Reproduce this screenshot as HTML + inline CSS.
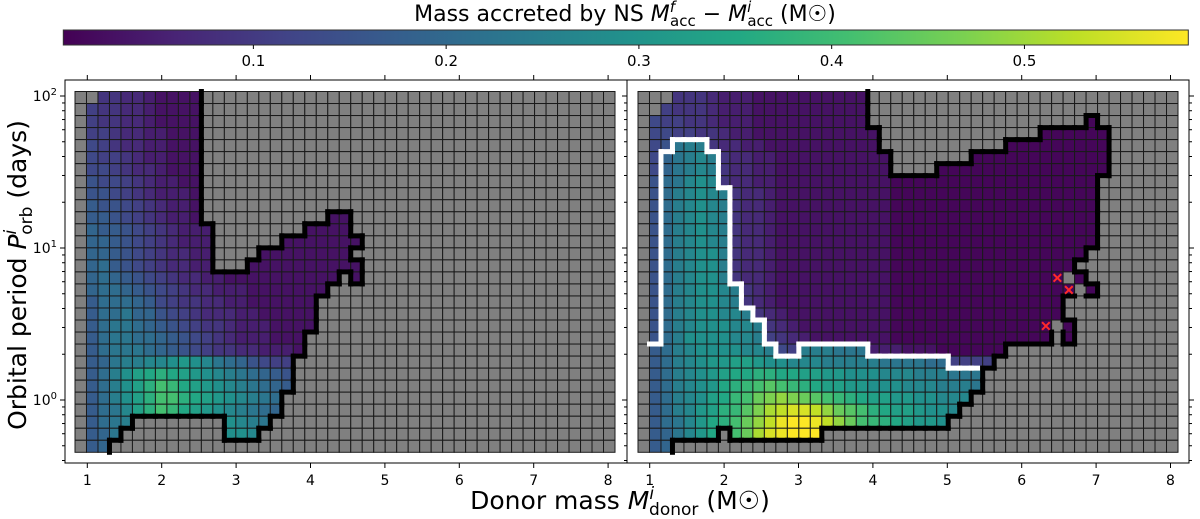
<!DOCTYPE html>
<html><head><meta charset="utf-8"><title>Mass accreted by NS</title>
<style>
html,body{margin:0;padding:0;background:#fff;}
svg{display:block;font-family:"DejaVu Sans","Liberation Sans",sans-serif;}
</style></head>
<body>
<svg id="fig" width="1200" height="519" viewBox="0 0 1200 519" xmlns="http://www.w3.org/2000/svg">
<defs>
<linearGradient id="vir" x1="0" x2="1" y1="0" y2="0">
<stop offset="0" stop-color="#440154"/><stop offset="0.1" stop-color="#482475"/><stop offset="0.2" stop-color="#414487"/><stop offset="0.3" stop-color="#355f8d"/><stop offset="0.4" stop-color="#2a788e"/><stop offset="0.5" stop-color="#21918c"/><stop offset="0.6" stop-color="#22a884"/><stop offset="0.7" stop-color="#44bf70"/><stop offset="0.8" stop-color="#7ad151"/><stop offset="0.9" stop-color="#bddf26"/><stop offset="1" stop-color="#fde725"/>
</linearGradient>
</defs>
<text x="625" y="21" font-size="22" text-anchor="middle">Mass accreted by NS <tspan font-style="italic">M</tspan><tspan font-size="15" dy="-9" font-style="italic">f</tspan><tspan font-size="15" dy="14" dx="-5">acc</tspan><tspan dy="-5"> − </tspan><tspan font-style="italic">M</tspan><tspan font-size="15" dy="-9" font-style="italic">i</tspan><tspan font-size="15" dy="14" dx="-4">acc</tspan><tspan dy="-5"> (M☉)</tspan></text>
<rect x="63.3" y="30" width="1125" height="15" fill="url(#vir)" stroke="#333" stroke-width="1"/>
<g id="cbticks"></g>
<g id="panelL"></g>
<g id="panelR"></g>
<text x="620" y="509" font-size="25" text-anchor="middle">Donor mass <tspan font-style="italic">M</tspan><tspan font-size="17" dy="-10" font-style="italic">i</tspan><tspan font-size="17" dy="16" dx="-5">donor</tspan><tspan dy="-6"> (M☉)</tspan></text>
<text transform="translate(26,275) rotate(-90)" font-size="25" text-anchor="middle">Orbital period <tspan font-style="italic">P</tspan><tspan font-size="17" dy="-10" font-style="italic">i</tspan><tspan font-size="17" dy="16" dx="-5">orb</tspan><tspan dy="-6"> (days)</tspan></text>
</svg>
<script>
// ---- data ----
const valueAlphabet = "0123456789abcdefghijklmnopqrstu"; // level k -> value 0.01+0.02k
const cbTickValues = [0.1, 0.2, 0.3, 0.4, 0.5];
const cbTickLabels = ["0.1", "0.2", "0.3", "0.4", "0.5"];
const xTickValues = [1, 2, 3, 4, 5, 6, 7, 8];
const yMajorExps = [0, 1, 2];
const leftGrid = [
"--443321111",
"-5443321111",
"-5443321111",
"-5543322111",
"-6543322111",
"-6554322111",
"-6654332111",
"-7665432211",
"-7765432221",
"-8776543221",
"-8876543221...........11",
"-98876543222........1111",
"-99876543222......1111111",
"-99876543322....11111111",
"-9a876543322...1111111111",
"-9a98765433221111111111.1",
"-9aa987654332221111111",
"-8aaa9865443322111111",
"-8aab9976543332211111",
"-8abba987654432221111",
"-8abbaa9876543222111",
"-8abbba9876544332221",
"-89bccddefedba97655",
"-8aceghihgfedcba987",
"-8acegikjhgfedcba98",
"-8acegikkihgfedcba",
"-8abdgikjhgfedcba9",
"-8abc........edcb",
"-89b.........eed",
"-89"
];
const rightGrid = [
"---44432221111111111",
"--544432221111111111",
"-6554432221111111111...................0",
"-66554432211111111111..............000000",
"-67bcc433221111111111...........000000000",
"-69bcdc433221111111111.......000000000000",
"-69bcdc433221111111111....000000000000000",
"-7abded433221111111111000000000000000000",
"-7acdedc43321111111111000000000000000000",
"-7acdedc43321111111111000000000000000000",
"-7acdedc43321111111111000000000000000000",
"-7acdedc43321111111111000000000000000000",
"-7acdedc43321111111111000000000000000000",
"-7acdeec4332111111111100000000000000000",
"-7acdeec433211111111110000000000000000",
"-7acdeec43321111111111000000000000000-0",
"-7acdeedc43211111111110000000000000000-0",
"-7acdeedc4321111111111000000000000000",
"-7acdeeddc432111111111000000000000000",
"-7acdeeeddc4321111111100000000000000-0",
"-7aceeeeddc5432111111100000000000000.0",
"-8acdeeeeddc65cccbbb222111000000",
"-8acdeffggfeedddcccccbbbbaa5555",
"-8acdefghhiihhggffeeedddcccbbb",
"-8acdefhijklkjihggffeeedddcccb",
"-8acdeghjkmnonmlkjihggffeeddd",
"-8acdfgijlnpqrrqomlkihggfeed",
"-8abdfhikmoqsttsqomkjihgffe",
"-89bdfh.kmprsttt",
"-89"
];
// region below the white contour: [row, firstCol, lastCol]
const rightRegion = [
[4,3,5],[5,2,6],[6,2,6],[7,2,6],
[8,2,7],[9,2,7],[10,2,7],[11,2,7],[12,2,7],[13,2,7],[14,2,7],[15,2,7],
[16,2,8],[17,2,8],[18,2,9],[19,2,10],[20,2,10],
[21,1,11],[21,14,19],[22,1,26],
[23,1,46],[24,1,46],[25,1,46],[26,1,46],[27,1,46],[28,1,46],[29,1,46]
];
const markerRows = [15, 16, 19];
const markerCols = [36, 37, 35];

// ---- layout ----
const NS = "http://www.w3.org/2000/svg";
const NC = 47, NR = 30;
const gridTop = 91.5, gridBot = 452.3;
const cellH = (gridBot - gridTop) / NR, cellW = 540 / NC;
const vmin = 0.0014, vmax = 0.585;
const axTop = 80, axBot = 463;
const vir = ["#440154","#482475","#414487","#355f8d","#2a788e","#21918c","#22a884","#44bf70","#7ad151","#bddf26","#fde725"];
function hex(h){return [parseInt(h.substr(1,2),16),parseInt(h.substr(3,2),16),parseInt(h.substr(5,2),16)];}
function cmap(v){
  let t=(v-vmin)/(vmax-vmin); t=Math.max(0,Math.min(1,t));
  const p=t*10, i=Math.min(9,Math.floor(p)), f=p-i;
  const a=hex(vir[i]), b=hex(vir[i+1]);
  return "rgb("+a.map((x,j)=>Math.round(x+(b[j]-x)*f)).join(",")+")";
}
function levelValue(ch){return 0.01+0.02*valueAlphabet.indexOf(ch);}
function mk(tag, attrs, parent){const e=document.createElementNS(NS,tag);for(const k in attrs)e.setAttribute(k,attrs[k]);parent.appendChild(e);return e;}
function yOfLog(v){return 400 - 152*Math.log10(v);}

// colorbar ticks
const cbG = document.getElementById("cbticks");
const cbX = v => 63.3 + (v - vmin)/(vmax - vmin)*1125;
cbTickValues.forEach((v,i)=>{
  const t = mk("line",{x1:cbX(v),x2:cbX(v),y1:45,y2:49,stroke:"#000","stroke-width":1},cbG);
  
  
  const l = mk("text",{x:cbX(v),y:66,"font-size":15,"text-anchor":"middle"},cbG);
  l.textContent = cbTickLabels[i];
  
  
});

function cellAt(grid,r,c){const s=grid[r]||"";return c<s.length?s[c]:".";}

function drawPanel(gid, grid, axL, axR, gx0, tick1, region, isRight){
  const g = document.getElementById(gid);
  const inRegion=(r,c)=>region.some(q=>q[0]===r&&c>=q[1]&&c<=q[2]);
  const gx = c => gx0 + c*cellW, gy = r => gridTop + r*cellH;
  for(let r=0;r<NR;r++){for(let c=0;c<NC;c++){
    const ch=cellAt(grid,r,c);
    const fill=(ch==="."||ch==="-")?"#808080":cmap(levelValue(ch));
    const rc=mk("rect",{x:gx(c),y:gy(r),width:cellW,height:cellH,fill:fill,stroke:"#1a1a1a","stroke-width":1},g);
    
    
  }}
  const isCol=ch=>!(ch==="."||ch==="-");
  const edges=[];
  for(let r=0;r<NR;r++){for(let c=0;c<NC;c++){
    const a=cellAt(grid,r,c);
    if(c+1<NC){const b=cellAt(grid,r,c+1);
      let col=null;
      if((isCol(a)&&b===".")||(a==="."&&isCol(b)))col="#000";
      else if(isRight&&isCol(a)&&isCol(b)&&inRegion(r,c)!==inRegion(r,c+1))col="#fff";
      if(col)edges.push([gx(c+1),gy(r),gx(c+1),gy(r+1),col]);}
    if(r+1<NR){const b=cellAt(grid,r+1,c);
      let col=null;
      if((isCol(a)&&b===".")||(a==="."&&isCol(b)))col="#000";
      else if(isRight&&isCol(a)&&isCol(b)&&inRegion(r,c)!==inRegion(r+1,c))col="#fff";
      if(col)edges.push([gx(c),gy(r+1),gx(c+1),gy(r+1),col]);}
  }}
  edges.sort((p,q)=>(p[4]==="#000")-(q[4]==="#000"));
  edges.forEach(e=>{
    const ln=mk("line",{x1:e[0],y1:e[1],x2:e[2],y2:e[3],stroke:e[4],"stroke-width":5,"stroke-linecap":"square"},g);
    
    
  });
  if(isRight){
    markerRows.forEach((r,i)=>{
      const cx=gx(markerCols[i])+cellW/2, cy=gy(r)+cellH/2, d=3.8;
      const m=mk("g",{},g);
      
      
      mk("line",{x1:cx-d,y1:cy-d,x2:cx+d,y2:cy+d,stroke:"#ff2a2a","stroke-width":2},m);
      mk("line",{x1:cx-d,y1:cy+d,x2:cx+d,y2:cy-d,stroke:"#ff2a2a","stroke-width":2},m);
    });
  }
  const fr=mk("rect",{x:axL,y:axTop,width:axR-axL,height:axBot-axTop,fill:"none",stroke:"#000","stroke-width":1},g);
  
  
  const xPix = v => tick1 + (v-1)*74.4;
  xTickValues.forEach(v=>{
    const x=xPix(v);
    mk("line",{x1:x,x2:x,y1:axBot,y2:axBot+5,stroke:"#000","stroke-width":1},g);
    mk("line",{x1:x,x2:x,y1:axTop,y2:axTop-5,stroke:"#000","stroke-width":1},g);
    const t=mk("text",{x:x,y:485,"font-size":14,"text-anchor":"middle"},g);
    t.textContent=String(v);
    
    
  });
  const side = isRight ? [[axL,-1],[axR,1]] : [[axL,-1]];
  side.forEach(([sx,dir])=>{
    for(let e=-1;e<=2;e++){for(let m=1;m<=9;m++){
      const v=m*Math.pow(10,e), y=yOfLog(v);
      if(y<axTop||y>axBot)continue;
      const len=m===1?5:3;
      mk("line",{x1:sx,x2:sx+dir*len,y1:y,y2:y,stroke:"#000","stroke-width":1},g);
    }}
  });
  if(!isRight){
    yMajorExps.forEach(e=>{
      const t=mk("text",{x:57,y:yOfLog(Math.pow(10,e))+5,"font-size":14,"text-anchor":"end"},g);
      
      
      const a=mk("tspan",{},t);a.textContent="10";
      const b=mk("tspan",{"font-size":10,dy:-6},t);b.textContent=String(e);
    });
  }
}
drawPanel("panelL", leftGrid, 65, 627, 75, 87.3, [], false);
drawPanel("panelR", rightGrid, 627, 1189, 638, 649.7, rightRegion, true);
</script>
</body></html>
